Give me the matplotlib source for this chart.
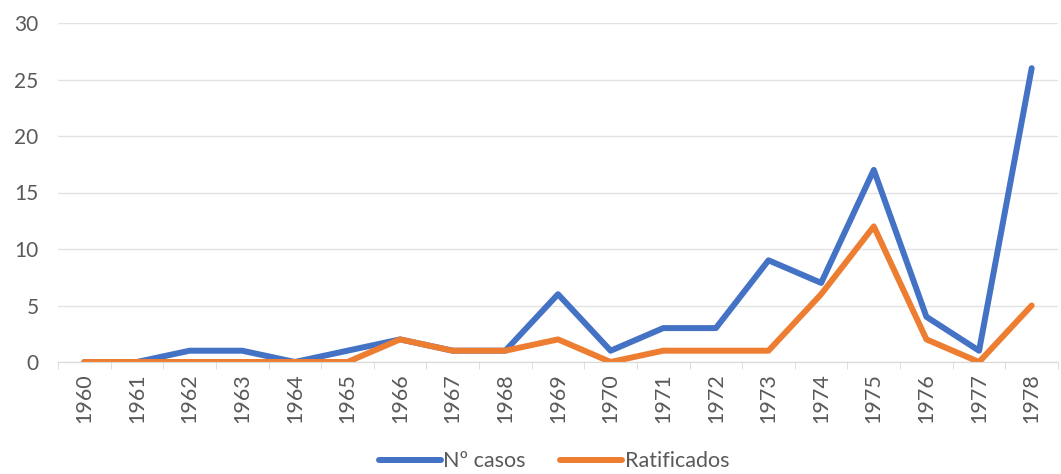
import matplotlib
matplotlib.use("Agg")
import matplotlib.pyplot as plt
from matplotlib.ticker import FixedLocator

years = [str(y) for y in range(1960, 1979)]
casos = [0, 0, 1, 1, 0, 1, 2, 1, 1, 6, 1, 3, 3, 9, 7, 17, 4, 1, 26]
ratificados = [0, 0, 0, 0, 0, 0, 2, 1, 1, 2, 0, 1, 1, 1, 6, 12, 2, 0, 5]

plt.rcParams['font.family'] = ['Lato', 'DejaVu Sans']
txt = '#595959'

fig = plt.figure(figsize=(10.61, 4.74), dpi=100)
ax = fig.add_axes([58/1061, 1-362/474, 1000/1061, 339/474])
x = list(range(len(years)))
ax.plot(x, casos, color='#4472C4', lw=4.3, label='Nº casos', solid_joinstyle='round', solid_capstyle='round')
ax.plot(x, ratificados, color='#ED7D31', lw=4.3, label='Ratificados', solid_joinstyle='round', solid_capstyle='round')

ax.set_xlim(-0.5, len(years) - 0.5)
ax.set_ylim(0, 30)
ax.set_yticks(range(0, 31, 5))
ax.yaxis.grid(True, color='#E3E3E3', lw=1)
ax.set_axisbelow(True)
ax.tick_params(axis='y', length=0, labelsize=15, labelcolor=txt, pad=14)
ax.set_xticks(x)
ax.set_xticklabels(years, rotation=90, fontsize=15.5, color=txt)
ax.tick_params(axis='x', which='major', length=0, pad=8)
ax.xaxis.set_minor_locator(FixedLocator([i - 0.5 for i in range(len(years) + 1)]))
ax.tick_params(axis='x', which='minor', length=5, color='#D9D9D9')
for s in ['top', 'right', 'left']:
    ax.spines[s].set_visible(False)
ax.spines['bottom'].set_color('#D9D9D9')

handles, labels = ax.get_legend_handles_labels()
leg = fig.legend(handles, labels, loc='center', bbox_to_anchor=(0.522, 0.027), ncol=2, frameon=False,
                 fontsize=15.5, handlelength=2.9, handletextpad=0.1, columnspacing=1.6,
                 borderpad=0, borderaxespad=0)
for t in leg.get_texts():
    t.set_color(txt)

fig.savefig('out.png', dpi=100)
